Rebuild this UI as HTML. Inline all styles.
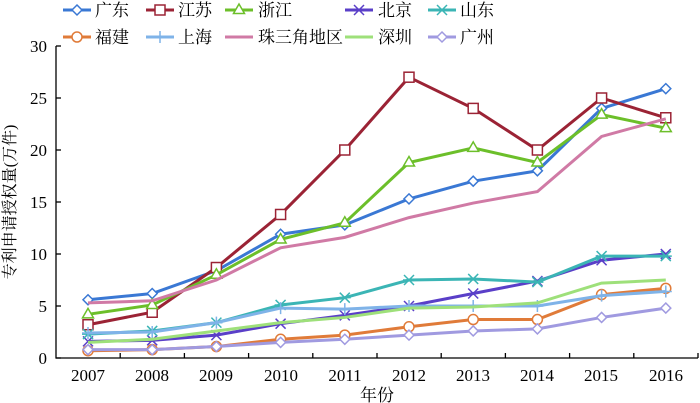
<!DOCTYPE html>
<html><head><meta charset="utf-8"><style>
html,body{margin:0;padding:0;background:#fff;}
svg{display:block;font-family:"Liberation Serif","Noto Serif CJK SC","Noto Sans CJK SC",serif;}
</style></head><body>
<svg id="s" width="700" height="403" viewBox="0 0 700 403" xmlns="http://www.w3.org/2000/svg">
<g font-size="17" fill="#000">
<text x="95" y="16">广东</text><text x="178" y="16">江苏</text><text x="258" y="16">浙江</text><text x="378" y="16">北京</text><text x="460" y="16">山东</text>
<text x="95" y="43">福建</text><text x="178" y="43">上海</text><text x="258" y="43">珠三角地区</text><text x="378" y="43">深圳</text><text x="460" y="43">广州</text>
</g>
<g font-size="17" text-anchor="end">
<text x="47" y="364">0</text><text x="47" y="312">5</text><text x="47" y="260">10</text><text x="47" y="208">15</text><text x="47" y="156">20</text><text x="47" y="104">25</text><text x="47" y="52">30</text>
</g>
<g font-size="17" text-anchor="middle">
<text x="88" y="381">2007</text><text x="152" y="381">2008</text><text x="216" y="381">2009</text><text x="281" y="381">2010</text><text x="345" y="381">2011</text><text x="409" y="381">2012</text><text x="473" y="381">2013</text><text x="537" y="381">2014</text><text x="601" y="381">2015</text><text x="666" y="381">2016</text>
<text x="377" y="401">年份</text>
</g>
<text transform="translate(15,202) rotate(-90)" font-size="16" text-anchor="middle">专利申请授权量(万件)</text>
<g stroke="#000" stroke-width="1.3" fill="none" id="ax">
<path d="M56,46 V358 H698"/>
</g>
<g id="series"></g>
</svg>
<script>
var ax=document.getElementById('ax'),ns='http://www.w3.org/2000/svg';
function el(t,a,p){var e=document.createElementNS(ns,t);for(var k in a)e.setAttribute(k,a[k]);(p||ax).appendChild(e);return e;}
for(var i=0;i<=6;i++){var y=358-i*52;el('line',{x1:56,x2:61,y1:y,y2:y});}
for(var i=1;i<=10;i++){var x=56+i*64.2;el('line',{x1:x,x2:x,y1:358,y2:353});}
var S=[
['#3a78d4','d',[5.6,6.2,8.4,11.9,12.8,15.3,17.0,18.0,24.0,25.9]],
['#9b2335','s',[3.2,4.4,8.7,13.8,20.0,27.0,24.0,20.0,25.0,23.1]],
['#6cbf2a','t',[4.2,5.1,8.0,11.4,13.0,18.8,20.2,18.8,23.4,22.1]],
['#5a3fc8','x',[1.6,1.7,2.2,3.3,4.1,5.0,6.2,7.4,9.4,10.0]],
['#3bb5b5','a',[2.3,2.6,3.4,5.1,5.8,7.5,7.6,7.3,9.8,9.8]],
['#e07b39','o',[0.7,0.8,1.1,1.8,2.2,3.0,3.7,3.7,6.1,6.7]],
['#7fb3e8','p',[2.4,2.5,3.4,4.8,4.7,5.0,5.0,5.0,6.0,6.4]],
['#d07aa5','n',[5.3,5.5,7.5,10.6,11.6,13.5,14.9,16.0,21.3,23.0]],
['#9ee07a','n',[1.5,1.8,2.6,3.4,3.9,4.8,4.9,5.3,7.2,7.5]],
['#a09ae0','d',[0.8,0.8,1.1,1.5,1.8,2.2,2.6,2.8,3.9,4.8]]];
var g=document.getElementById('series');
function mk(m,x,y,c){var a={stroke:c,'stroke-width':1.5,fill:'#fff'};
 if(m=='d')el('path',Object.assign({d:'M'+x+','+(y-5)+'l5,5l-5,5l-5,-5z'},a),g);
 if(m=='s')el('rect',Object.assign({x:x-5,y:y-5,width:10,height:10},a),g);
 if(m=='t')el('path',Object.assign({d:'M'+x+','+(y-6)+'l5.5,9.5h-11z'},a),g);
 if(m=='o')el('circle',Object.assign({cx:x,cy:y,r:5},a),g);
 if(m=='x')el('path',{d:'M'+(x-5)+','+(y-5)+'l10,10m0,-10l-10,10',stroke:c,'stroke-width':1.5},g);
 if(m=='a')el('path',{d:'M'+(x-5)+','+(y-5)+'l10,10m0,-10l-10,10M'+(x-6)+','+y+'h12',stroke:c,'stroke-width':1.5},g);
 if(m=='p')el('path',{d:'M'+(x-6)+','+y+'h12M'+x+','+(y-6)+'v12',stroke:c,'stroke-width':1.5},g);}
S.forEach(function(s,k){var pts=s[2].map(function(v,i){return [88+i*64.2,358-v*10.4];});
 el('polyline',{points:pts.map(function(p){return p.join(',')}).join(' '),fill:'none',stroke:s[0],'stroke-width':3},g);
 pts.forEach(function(p){mk(s[1],p[0],p[1],s[0]);});
 var col=k%5,row=Math.floor(k/5),lx=[63,146,225,345,428][col],ly=row?37:10;
 el('line',{x1:lx,x2:lx+28,y1:ly,y2:ly,stroke:s[0],'stroke-width':3},g);mk(s[1],lx+14,ly,s[0]);});
</script>
</body></html>
